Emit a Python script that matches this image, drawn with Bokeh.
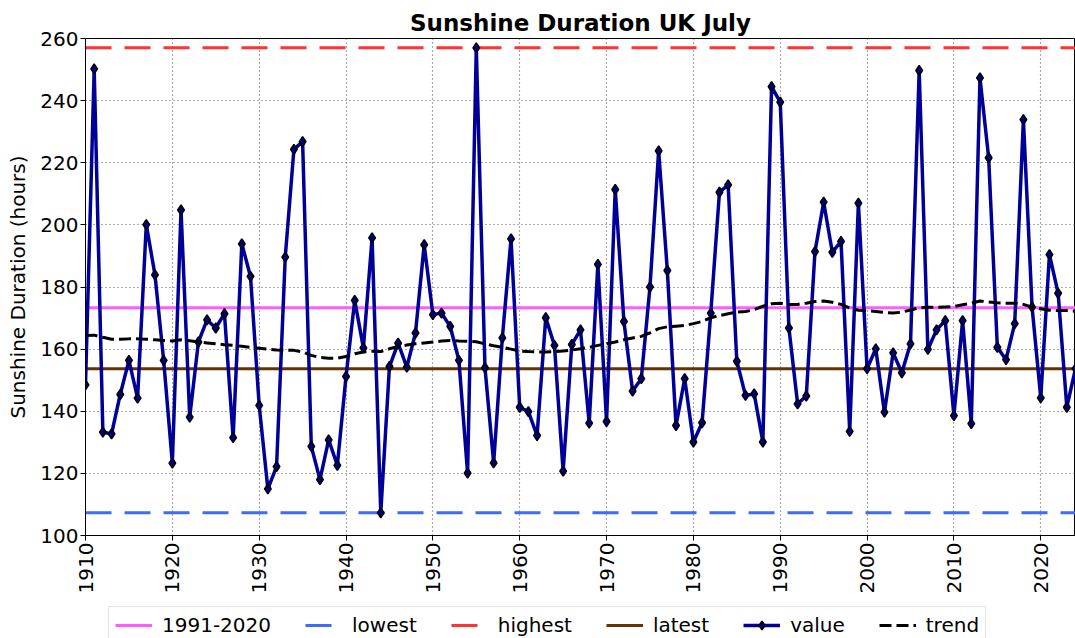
import math
from bokeh.plotting import figure
from bokeh.layouts import column
from bokeh.models import Range1d, Legend, LegendItem, FixedTicker
from bokeh.embed import file_html
from bokeh.resources import INLINE

years = list(range(1910, 2025))
values = [
    148.5, 250.2, 133.3, 132.7, 145.4, 156.4, 144.2, 200.1, 183.9, 156.4,
    123.3, 204.8, 138.1, 162.3, 169.4, 166.8, 171.4, 131.5, 193.9, 183.4,
    141.9, 115.0, 122.2, 189.6, 224.3, 226.8, 128.7, 118.0, 130.8, 122.6,
    151.2, 175.7, 160.4, 195.8, 107.3, 154.4, 161.9, 154.2, 165.2, 193.6,
    171.1, 171.6, 167.3, 156.4, 120.1, 257.0, 154.0, 123.4, 163.6, 195.5,
    141.3, 139.9, 132.2, 170.1, 161.2, 120.7, 161.5, 166.2, 136.2, 187.3,
    136.7, 211.4, 168.9, 146.5, 150.5, 180.0, 223.8, 185.3, 135.4, 150.5,
    130.1, 136.3, 171.6, 210.5, 212.9, 156.1, 145.1, 145.6, 130.1, 244.5,
    239.5, 166.8, 142.4, 144.9, 191.4, 207.3, 191.2, 194.7, 133.5, 207.0,
    153.7, 160.1, 139.7, 158.8, 152.4, 161.7, 249.7, 159.9, 166.2, 169.2,
    138.6, 169.2, 136.0, 247.3, 221.6, 160.6, 156.6, 168.2, 233.9, 173.5,
    144.3, 190.4, 178.0, 141.3, 153.7,
]
trend = [
    164.4, 164.5, 163.8, 163.2, 163.2, 163.3, 163.3, 163.2, 163.0, 162.8,
    162.6, 163.0, 162.7, 162.3, 162.0, 161.7, 161.4, 161.2, 160.9, 160.6,
    160.3, 160.0, 159.7, 159.6, 159.6, 159.1, 158.0, 157.3, 157.1, 157.1,
    157.6, 158.5, 159.1, 159.3, 159.2, 160.1, 160.9, 161.3, 161.7, 162.0,
    162.3, 162.6, 162.8, 162.6, 162.5, 162.4, 161.7, 161.1, 160.6, 160.0,
    159.4, 159.2, 159.1, 159.1, 159.2, 159.4, 159.7, 160.1, 160.6, 161.2,
    161.7, 162.3, 163.0, 163.6, 164.1, 165.2, 166.6, 167.2, 167.4, 167.6,
    168.2, 168.9, 170.1, 170.8, 171.4, 171.9, 172.1, 172.7, 173.8, 174.6,
    174.8, 174.4, 174.4, 174.8, 175.3, 175.5, 175.1, 174.4, 173.2, 172.5,
    172.4, 172.1, 171.8, 171.6, 171.9, 172.6, 173.3, 173.5, 173.5, 173.6,
    173.7, 174.3, 174.8, 175.5, 175.2, 174.9, 174.8, 174.8, 174.4, 173.5,
    173.0, 172.5, 172.4, 172.4, 172.2,
]
mean_1991_2020 = 173.3
lowest = min(values)
highest = max(values)
latest = values[-1]
x_ticks = list(range(1910, 2030, 10))
y_ticks = list(range(100, 280, 20))

FONT = "DejaVu Sans"

# styles
MEAN = dict(line_color="#ff5cff", line_width=3)
LOW = dict(line_color="#3d6bff", line_width=3, line_dash="26 13")
HIGH = dict(line_color="#ff3333", line_width=3, line_dash="26 13")
LATEST = dict(line_color="#663300", line_width=3)
VAL = dict(line_color="#000099", line_width=3.5)
PTS = dict(marker="diamond", size=10, fill_color="#000080", line_color="black", line_width=1.5)
TREND = dict(line_color="black", line_width=3, line_dash="12 5")

p = figure(width=1075, height=600, output_backend="svg", toolbar_location=None,
           x_range=Range1d(years[0], years[-1]), y_range=Range1d(100, 260),
           min_border_left=85, min_border_right=0, min_border_top=38,
           min_border_bottom=65)
p.background_fill_color = "white"
p.border_fill_color = "white"
p.outline_line_color = "black"
p.outline_line_width = 1
p.outline_line_alpha = 1

p.title.text = "Sunshine Duration UK July"
p.title.text_font = FONT
p.title.text_font_size = "23px"
p.title.text_font_style = "bold"
p.title.text_color = "black"
p.title.align = "center"
p.title.standoff = 6

for ax in (p.xaxis[0], p.yaxis[0]):
    ax.major_label_text_font = FONT
    ax.major_label_text_font_size = "20px"
    ax.major_label_text_color = "black"
    ax.axis_line_color = "black"
    ax.major_tick_line_color = "black"
    ax.major_tick_out = 5
    ax.major_tick_in = 0
    ax.minor_tick_line_color = None
    ax.major_label_standoff = 2

p.xaxis.ticker = FixedTicker(ticks=x_ticks)
p.xaxis.major_label_orientation = math.pi / 2
p.yaxis.ticker = FixedTicker(ticks=y_ticks)
p.yaxis.axis_label = "Sunshine Duration (hours)"
p.yaxis.axis_label_text_font = FONT
p.yaxis.axis_label_text_font_size = "20px"
p.yaxis.axis_label_text_font_style = "normal"
p.yaxis.axis_label_text_color = "black"
p.yaxis.axis_label_standoff = 7

for g in (p.xgrid[0], p.ygrid[0]):
    g.grid_line_color = "#555555"
    g.grid_line_dash = "1 3"
    g.grid_line_width = 1.2
    g.grid_line_alpha = 1

xs = [years[0], years[-1]]
p.line(xs, [mean_1991_2020] * 2, **MEAN)
p.line(xs, [lowest] * 2, **LOW)
p.line(xs, [highest] * 2, **HIGH)
p.line(xs, [latest] * 2, **LATEST)
p.line(years, values, **VAL)
p.scatter(years, values, **PTS)
p.line(years, trend, **TREND)

# legend strip below the chart (its plot area shows no data; the same series
# are drawn there only so that the legend gets its glyphs)
lg = figure(width=1075, height=38, output_backend="svg", toolbar_location=None,
            x_range=Range1d(0, 1), y_range=Range1d(0, 1),
            x_axis_type=None, y_axis_type=None,
            min_border_left=0, min_border_right=0, min_border_top=0, min_border_bottom=0)
lg.outline_line_color = None
lg.xgrid.visible = False
lg.ygrid.visible = False
lg.border_fill_color = "white"
lg.background_fill_color = "white"

d_mean = lg.line(xs, [mean_1991_2020] * 2, **MEAN)
d_low = lg.line(xs, [lowest] * 2, **LOW)
d_high = lg.line(xs, [highest] * 2, **HIGH)
d_latest = lg.line(xs, [latest] * 2, **LATEST)
d_val = lg.line(years, values, **VAL)
d_pts = lg.scatter(years, values, **PTS)
d_trend = lg.line(years, trend, **TREND)

legend = Legend(items=[
    LegendItem(label="1991-2020", renderers=[d_mean]),
    LegendItem(label="lowest", renderers=[d_low]),
    LegendItem(label="highest", renderers=[d_high]),
    LegendItem(label="latest", renderers=[d_latest]),
    LegendItem(label="value", renderers=[d_val, d_pts]),
    LegendItem(label="trend", renderers=[d_trend]),
], orientation="horizontal", location=(23, -6))
legend.label_text_font = FONT
legend.label_text_font_size = "20px"
legend.label_text_color = "black"
legend.glyph_width = 37
legend.glyph_height = 22
legend.label_height = 22
legend.label_standoff = 10
legend.spacing = 34
legend.padding = 6
legend.margin = 0
legend.border_line_color = "#cccccc"
legend.border_line_width = 1
legend.background_fill_alpha = 0.8
lg.add_layout(legend, "center")

layout = column(p, lg, spacing=0)
open("out.html", "w").write(file_html(layout, INLINE))
